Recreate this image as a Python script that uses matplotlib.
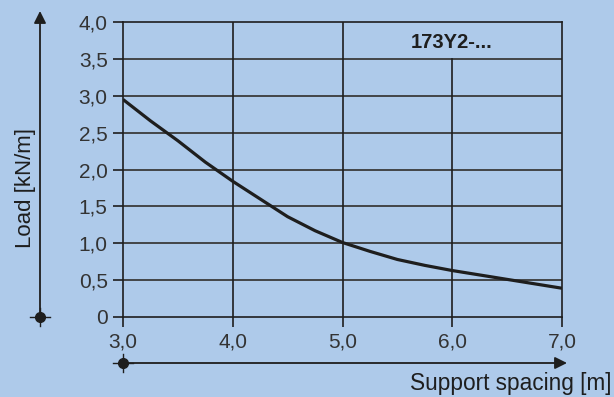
import matplotlib
matplotlib.use('Agg')
import matplotlib.pyplot as plt

spacing = [3.0, 3.25, 3.5, 3.75, 4.0, 4.25, 4.5, 4.75, 5.0,
           5.25, 5.5, 5.75, 6.0, 6.25, 6.5, 6.75, 7.0]
load = [2.95, 2.66, 2.39, 2.10, 1.84, 1.60, 1.36, 1.17, 1.01,
        0.89, 0.78, 0.70, 0.63, 0.57, 0.51, 0.45, 0.39]

xticks = [3.0, 4.0, 5.0, 6.0, 7.0]
yticks = [0, 0.5, 1.0, 1.5, 2.0, 2.5, 3.0, 3.5, 4.0]
xlabels = ['3,0', '4,0', '5,0', '6,0', '7,0']
ylabels = ['0', '0,5', '1,0', '1,5', '2,0', '2,5', '3,0', '3,5', '4,0']

bg = '#aecaea'
ink = '#1e1e1e'
plt.rcParams['font.family'] = ['Liberation Sans', 'DejaVu Sans']

W, H = 614, 397
fig = plt.figure(figsize=(W / 100, H / 100), dpi=100, facecolor=bg)
ax = fig.add_axes([123 / W, 1 - 317 / H, 439 / W, 295 / H], facecolor=bg)

# grid
for y in yticks[1:-1]:
    ax.plot([3.0, 7.0], [y, y], color='#3a3a3a', lw=1.3, zorder=1)
for x in xticks[1:-1]:
    top = 3.5 if x == 6.0 else 4.0
    ax.plot([x, x], [0, top], color=ink, lw=1.2, zorder=1)

ax.plot(spacing, load, color=ink, lw=2.3, solid_capstyle='butt', zorder=3)

ax.set_xlim(3.0, 7.0)
ax.set_ylim(0, 4.0)
for s in ax.spines.values():
    s.set_color(ink)
    s.set_linewidth(1.2)
ax.set_xticks(xticks)
ax.set_xticklabels(xlabels)
ax.set_yticks(yticks)
ax.set_yticklabels(ylabels)
ax.tick_params(direction='out', length=7, width=1.2, color=ink,
               labelcolor='#333333', labelsize=15, pad=4)

# decorative axis arrows and labels in pixel space
ov = fig.add_axes([0, 0, 1, 1], facecolor='none')
ov.set_xlim(0, W)
ov.set_ylim(H, 0)
ov.axis('off')
ov.annotate('', xy=(40, 11), xytext=(40, 317),
            arrowprops=dict(arrowstyle='-|>', color=ink, lw=1.3,
                            mutation_scale=18, shrinkA=0, shrinkB=0))
ov.annotate('', xy=(567, 363), xytext=(123, 363),
            arrowprops=dict(arrowstyle='-|>', color=ink, lw=1.3,
                            mutation_scale=18, shrinkA=0, shrinkB=0))
for cx, cy in [(40, 317), (123, 363)]:
    ov.plot([cx - 10, cx + 10], [cy, cy], color=ink, lw=1.0)
    ov.plot([cx, cx], [cy - 9, cy + 9], color=ink, lw=1.0)
    ov.plot(cx, cy, 'o', color=ink, ms=7)

ov.text(452, 47.5, '173Y2-...', ha='center', va='baseline',
        fontsize=14.5, fontweight='bold', color=ink)
ov.text(25, 188, 'Load [kN/m]', rotation=90, ha='center', va='center',
        fontsize=16, color=ink)
ov.text(611, 390, 'Support spacing [m]', ha='right', va='baseline',
        fontsize=16.3, color=ink)

fig.savefig('out.png', dpi=100, facecolor=bg)
